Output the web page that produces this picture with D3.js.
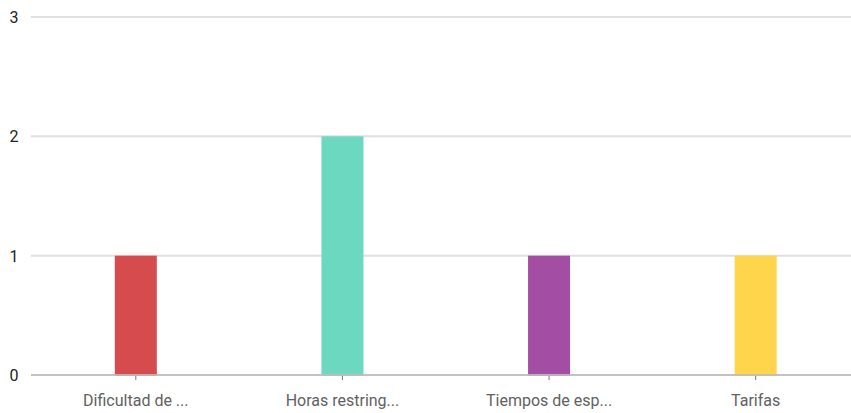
<!DOCTYPE html>
<html><head><meta charset="utf-8">
<script src="https://cdn.jsdelivr.net/npm/d3@7"></script>
<style>html,body{margin:0;padding:0;background:#fff;overflow:hidden}</style>
</head><body>
<svg id="c" width="851" height="413"></svg>
<script>
const categories = ["Dificultad de ...", "Horas restring...", "Tiempos de esp...", "Tarifas"];
const values = [1, 2, 1, 1];
const colors = ["#d64b4e", "#6cd8bf", "#a34da3", "#ffd54b"];
const yTicks = [0, 1, 2, 3];

const svg = d3.select("#c");
const x = d3.scaleBand().domain(categories).range([32.5, 859]);
const y = d3.scaleLinear().domain([0, 3]).range([375, 17]);
const barW = 42;

// gridlines
svg.append("g").selectAll("line").data(yTicks.filter(d => d > 0)).join("line")
  .attr("x1", 31).attr("x2", 851)
  .attr("y1", d => y(d)).attr("y2", d => y(d))
  .attr("stroke", "#e0e0e0").attr("stroke-width", 2);

// y labels
svg.append("g").selectAll("text").data(yTicks).join("text")
  .attr("x", 14).attr("y", d => y(d) + 6)
  .attr("text-anchor", "middle")
  .attr("font-family", "Roboto, Arial, sans-serif").attr("font-size", 16)
  .attr("fill", "#222").text(d => d);

// bars
svg.append("g").selectAll("rect").data(categories).join("rect")
  .attr("x", d => x(d) + x.bandwidth() / 2 - barW / 2)
  .attr("width", barW)
  .attr("y", (d, i) => y(values[i]))
  .attr("height", (d, i) => y(0) - y(values[i]) + 1)
  .attr("fill", (d, i) => colors[i]);

// baseline
svg.append("line").attr("x1", 31).attr("x2", 851)
  .attr("y1", y(0)).attr("y2", y(0))
  .attr("stroke", "#bdbdbd").attr("stroke-width", 2).attr("opacity", 0.9);

// x axis ticks and labels
const xa = svg.append("g");
xa.selectAll("line").data(categories).join("line")
  .attr("x1", d => x(d) + x.bandwidth() / 2).attr("x2", d => x(d) + x.bandwidth() / 2)
  .attr("y1", 376).attr("y2", 380)
  .attr("stroke", "#777").attr("stroke-width", 1);
xa.selectAll("text").data(categories).join("text")
  .attr("x", d => x(d) + x.bandwidth() / 2).attr("y", 406)
  .attr("text-anchor", "middle")
  .attr("font-family", "Roboto, Arial, sans-serif").attr("font-size", 16)
  .attr("fill", "#616161").text(d => d);
</script>
</body></html>
